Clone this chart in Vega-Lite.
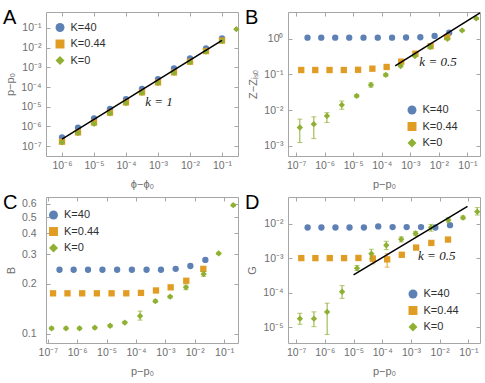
{
"$schema":"https://vega.github.io/schema/vega-lite/v6.json",
"padding":{"left":2,"top":7,"right":0,"bottom":0},
"bounds":"flush",
"columns":2,
"spacing":{"row":41,"column":50},
"datasets":{
"pts":[
{"p":"A","K":"K=40","x":1e-6,"y":2.82e-7},{"p":"A","K":"K=40","x":3.16e-6,"y":8.71e-7},{"p":"A","K":"K=40","x":1e-5,"y":2.57e-6},{"p":"A","K":"K=40","x":3.16e-5,"y":7.76e-6},{"p":"A","K":"K=40","x":1e-4,"y":2.45e-5},{"p":"A","K":"K=40","x":3.16e-4,"y":7.94e-5},{"p":"A","K":"K=40","x":1e-3,"y":2.51e-4},{"p":"A","K":"K=40","x":3.16e-3,"y":8.71e-4},{"p":"A","K":"K=40","x":1e-2,"y":2.82e-3},{"p":"A","K":"K=40","x":3.16e-2,"y":8.91e-3},{"p":"A","K":"K=40","x":0.1,"y":2.88e-2},
{"p":"A","K":"K=0.44","x":1e-6,"y":1.70e-7},{"p":"A","K":"K=0.44","x":3.16e-6,"y":5.01e-7},{"p":"A","K":"K=0.44","x":1e-5,"y":1.58e-6},{"p":"A","K":"K=0.44","x":3.16e-5,"y":5.01e-6},{"p":"A","K":"K=0.44","x":1e-4,"y":1.66e-5},{"p":"A","K":"K=0.44","x":3.16e-4,"y":5.37e-5},{"p":"A","K":"K=0.44","x":1e-3,"y":1.70e-4},{"p":"A","K":"K=0.44","x":3.16e-3,"y":5.50e-4},{"p":"A","K":"K=0.44","x":1e-2,"y":1.91e-3},{"p":"A","K":"K=0.44","x":3.16e-2,"y":6.61e-3},{"p":"A","K":"K=0.44","x":0.1,"y":2.24e-2},
{"p":"A","K":"K=0","x":1e-6,"y":1.58e-7},{"p":"A","K":"K=0","x":3.16e-6,"y":4.68e-7},{"p":"A","K":"K=0","x":1e-5,"y":1.38e-6},{"p":"A","K":"K=0","x":3.16e-5,"y":4.68e-6},{"p":"A","K":"K=0","x":1e-4,"y":1.55e-5},{"p":"A","K":"K=0","x":3.16e-4,"y":5.01e-5},{"p":"A","K":"K=0","x":1e-3,"y":1.62e-4},{"p":"A","K":"K=0","x":3.16e-3,"y":5.25e-4},{"p":"A","K":"K=0","x":1e-2,"y":1.82e-3},{"p":"A","K":"K=0","x":3.16e-2,"y":6.31e-3},{"p":"A","K":"K=0","x":0.1,"y":2.14e-2},{"p":"A","K":"K=0","x":0.28,"y":0.085},

{"p":"B","K":"K=40","x":2.51e-7,"y":1.07},{"p":"B","K":"K=40","x":7.59e-7,"y":1.07},{"p":"B","K":"K=40","x":2.34e-6,"y":1.07},{"p":"B","K":"K=40","x":7.24e-6,"y":1.07},{"p":"B","K":"K=40","x":2.29e-5,"y":1.07},{"p":"B","K":"K=40","x":7.24e-5,"y":1.07},{"p":"B","K":"K=40","x":2.29e-4,"y":1.07},{"p":"B","K":"K=40","x":7.08e-4,"y":1.08},{"p":"B","K":"K=40","x":2.24e-3,"y":1.10},{"p":"B","K":"K=40","x":7.08e-3,"y":1.20},{"p":"B","K":"K=40","x":2.29e-2,"y":1.47},
{"p":"B","K":"K=0.44","x":1.51e-7,"y":0.133},{"p":"B","K":"K=0.44","x":4.68e-7,"y":0.133},{"p":"B","K":"K=0.44","x":1.48e-6,"y":0.133},{"p":"B","K":"K=0.44","x":4.68e-6,"y":0.133},{"p":"B","K":"K=0.44","x":1.48e-5,"y":0.135},{"p":"B","K":"K=0.44","x":4.68e-5,"y":0.145},{"p":"B","K":"K=0.44","x":1.48e-4,"y":0.162},{"p":"B","K":"K=0.44","x":4.79e-4,"y":0.228},{"p":"B","K":"K=0.44","x":1.51e-3,"y":0.38},{"p":"B","K":"K=0.44","x":5.13e-3,"y":0.62},{"p":"B","K":"K=0.44","x":1.95e-2,"y":1.11},
{"p":"B","K":"K=0","x":1.35e-7,"y":3.27e-3,"lo":1.24e-3,"hi":5.6e-3},{"p":"B","K":"K=0","x":4.17e-7,"y":4.05e-3,"lo":1.6e-3,"hi":6.5e-3},{"p":"B","K":"K=0","x":1.20e-6,"y":6.9e-3,"lo":4.5e-3,"hi":8.5e-3},{"p":"B","K":"K=0","x":3.98e-6,"y":1.4e-2,"lo":1.06e-2,"hi":1.8e-2},{"p":"B","K":"K=0","x":1.32e-5,"y":2.5e-2,"lo":2.3e-2,"hi":2.75e-2},{"p":"B","K":"K=0","x":4.17e-5,"y":5.1e-2,"lo":4.4e-2,"hi":5.8e-2},{"p":"B","K":"K=0","x":1.38e-4,"y":0.097,"lo":0.088,"hi":0.107},{"p":"B","K":"K=0","x":4.57e-4,"y":0.172,"lo":0.163,"hi":0.181},{"p":"B","K":"K=0","x":1.45e-3,"y":0.328,"lo":0.31,"hi":0.345},{"p":"B","K":"K=0","x":5.01e-3,"y":0.585,"lo":0.55,"hi":0.62},{"p":"B","K":"K=0","x":2.0e-2,"y":1.0},{"p":"B","K":"K=0","x":6.5e-2,"y":1.71,"lo":1.6,"hi":1.82},{"p":"B","K":"K=0","x":0.204,"y":3.7,"lo":3.45,"hi":3.95},

{"p":"C","K":"K=40","x":2.51e-7,"y":0.242},{"p":"C","K":"K=40","x":7.59e-7,"y":0.242},{"p":"C","K":"K=40","x":2.34e-6,"y":0.242},{"p":"C","K":"K=40","x":7.24e-6,"y":0.242},{"p":"C","K":"K=40","x":2.29e-5,"y":0.242},{"p":"C","K":"K=40","x":7.24e-5,"y":0.242},{"p":"C","K":"K=40","x":2.29e-4,"y":0.242},{"p":"C","K":"K=40","x":7.08e-4,"y":0.242},{"p":"C","K":"K=40","x":2.24e-3,"y":0.245},{"p":"C","K":"K=40","x":7.08e-3,"y":0.255},{"p":"C","K":"K=40","x":2.29e-2,"y":0.277},
{"p":"C","K":"K=0.44","x":1.51e-7,"y":0.175},{"p":"C","K":"K=0.44","x":4.68e-7,"y":0.175},{"p":"C","K":"K=0.44","x":1.48e-6,"y":0.175},{"p":"C","K":"K=0.44","x":4.68e-6,"y":0.175},{"p":"C","K":"K=0.44","x":1.48e-5,"y":0.175},{"p":"C","K":"K=0.44","x":4.68e-5,"y":0.175},{"p":"C","K":"K=0.44","x":1.48e-4,"y":0.176},{"p":"C","K":"K=0.44","x":4.79e-4,"y":0.182},{"p":"C","K":"K=0.44","x":1.51e-3,"y":0.190},{"p":"C","K":"K=0.44","x":5.13e-3,"y":0.208},{"p":"C","K":"K=0.44","x":1.95e-2,"y":0.245},
{"p":"C","K":"K=0","x":1.35e-7,"y":0.108,"lo":0.106,"hi":0.110},{"p":"C","K":"K=0","x":4.17e-7,"y":0.108,"lo":0.106,"hi":0.110},{"p":"C","K":"K=0","x":1.20e-6,"y":0.108,"lo":0.106,"hi":0.110},{"p":"C","K":"K=0","x":3.98e-6,"y":0.109,"lo":0.107,"hi":0.111},{"p":"C","K":"K=0","x":1.32e-5,"y":0.112,"lo":0.110,"hi":0.114},{"p":"C","K":"K=0","x":4.17e-5,"y":0.117,"lo":0.115,"hi":0.119},{"p":"C","K":"K=0","x":1.38e-4,"y":0.128,"lo":0.121,"hi":0.137},{"p":"C","K":"K=0","x":4.57e-4,"y":0.157,"lo":0.154,"hi":0.160},{"p":"C","K":"K=0","x":1.45e-3,"y":0.167,"lo":0.164,"hi":0.170},{"p":"C","K":"K=0","x":5.01e-3,"y":0.190,"lo":0.184,"hi":0.196},{"p":"C","K":"K=0","x":2.0e-2,"y":0.228,"lo":0.221,"hi":0.236},{"p":"C","K":"K=0","x":6.5e-2,"y":0.303,"lo":0.298,"hi":0.308},{"p":"C","K":"K=0","x":0.204,"y":0.589,"lo":0.58,"hi":0.598},

{"p":"D","K":"K=40","x":2.51e-7,"y":7.8e-3,"lo":7.4e-3,"hi":8.2e-3},{"p":"D","K":"K=40","x":7.59e-7,"y":7.8e-3,"lo":7.4e-3,"hi":8.2e-3},{"p":"D","K":"K=40","x":2.34e-6,"y":7.8e-3,"lo":7.4e-3,"hi":8.2e-3},{"p":"D","K":"K=40","x":7.24e-6,"y":7.8e-3,"lo":7.4e-3,"hi":8.2e-3},{"p":"D","K":"K=40","x":2.29e-5,"y":7.8e-3,"lo":7.4e-3,"hi":8.2e-3},{"p":"D","K":"K=40","x":7.24e-5,"y":8.35e-3,"lo":7.9e-3,"hi":8.8e-3},{"p":"D","K":"K=40","x":2.29e-4,"y":8.0e-3,"lo":7.6e-3,"hi":8.4e-3},{"p":"D","K":"K=40","x":7.08e-4,"y":8.0e-3,"lo":7.6e-3,"hi":8.4e-3},{"p":"D","K":"K=40","x":2.24e-3,"y":8.0e-3,"lo":7.6e-3,"hi":8.4e-3},{"p":"D","K":"K=40","x":7.08e-3,"y":7.8e-3,"lo":7.4e-3,"hi":8.2e-3},{"p":"D","K":"K=40","x":2.29e-2,"y":9.1e-3,"lo":8.6e-3,"hi":9.6e-3},
{"p":"D","K":"K=0.44","x":1.51e-7,"y":1.01e-3,"lo":9.2e-4,"hi":1.1e-3},{"p":"D","K":"K=0.44","x":4.68e-7,"y":1.01e-3,"lo":9.2e-4,"hi":1.1e-3},{"p":"D","K":"K=0.44","x":1.48e-6,"y":1.01e-3,"lo":9.2e-4,"hi":1.1e-3},{"p":"D","K":"K=0.44","x":4.68e-6,"y":1.01e-3,"lo":9.2e-4,"hi":1.1e-3},{"p":"D","K":"K=0.44","x":1.48e-5,"y":1.02e-3,"lo":8.6e-4,"hi":1.2e-3},{"p":"D","K":"K=0.44","x":4.68e-5,"y":9.7e-4,"lo":6.9e-4,"hi":1.21e-3},{"p":"D","K":"K=0.44","x":1.48e-4,"y":9.3e-4,"lo":5.5e-4,"hi":1.35e-3},{"p":"D","K":"K=0.44","x":4.79e-4,"y":1.26e-3,"lo":1.15e-3,"hi":1.38e-3},{"p":"D","K":"K=0.44","x":1.51e-3,"y":2.04e-3,"lo":1.9e-3,"hi":2.2e-3},{"p":"D","K":"K=0.44","x":5.13e-3,"y":2.78e-3,"lo":2.6e-3,"hi":2.95e-3},{"p":"D","K":"K=0.44","x":1.95e-2,"y":3.48e-3,"lo":3.25e-3,"hi":3.7e-3},
{"p":"D","K":"K=0","x":1.35e-7,"y":1.78e-5,"lo":1.22e-5,"hi":2.55e-5},{"p":"D","K":"K=0","x":4.17e-7,"y":1.78e-5,"lo":1.04e-5,"hi":2.79e-5},{"p":"D","K":"K=0","x":1.20e-6,"y":2.79e-5,"lo":6.2e-6,"hi":5.0e-5},{"p":"D","K":"K=0","x":3.98e-6,"y":1.07e-4,"lo":6.9e-5,"hi":1.61e-4},{"p":"D","K":"K=0","x":1.32e-5,"y":5.16e-4,"lo":4.4e-4,"hi":6.2e-4},{"p":"D","K":"K=0","x":4.17e-5,"y":1.36e-3,"lo":9.7e-4,"hi":1.82e-3},{"p":"D","K":"K=0","x":1.38e-4,"y":2.38e-3,"lo":1.78e-3,"hi":3.1e-3},{"p":"D","K":"K=0","x":4.57e-4,"y":3.56e-3,"lo":2.98e-3,"hi":4.17e-3},{"p":"D","K":"K=0","x":1.45e-3,"y":5.21e-3,"lo":4.5e-3,"hi":6.0e-3},{"p":"D","K":"K=0","x":5.01e-3,"y":7.8e-3,"lo":6.1e-3,"hi":9.56e-3},{"p":"D","K":"K=0","x":2.0e-2,"y":1.28e-2,"lo":1.1e-2,"hi":1.5e-2},{"p":"D","K":"K=0","x":6.5e-2,"y":1.5e-2,"lo":1.35e-2,"hi":1.68e-2},{"p":"D","K":"K=0","x":0.204,"y":2.24e-2,"lo":1.79e-2,"hi":2.94e-2}
],
"lines":[
{"p":"A","x":1e-6,"y":2.3e-7},{"p":"A","x":0.1,"y":2.3e-2},
{"p":"B","x":2.95e-4,"y":0.173},{"p":"B","x":0.275,"y":5.3},
{"p":"D","x":1e-5,"y":3.31e-4},{"p":"D","x":0.0933,"y":0.032}
],
"notes":[
{"p":"A","x":1.07e-3,"y":1.82e-5,"t":"k = 1"},
{"p":"B","x":9.3e-3,"y":0.228,"t":"k = 0.5"},
{"p":"D","x":7.9e-3,"y":1.13e-3,"t":"k = 0.5"}
]
},
"concat":[
{"width":192,"height":144,
 "title":{"text":"A"},
 "layer":[
  {"data":{"name":"pts"},"transform":[{"filter":"datum.p=='A'"}],
   "mark":{"type":"point","filled":true,"size":40,"opacity":1},
   "encoding":{
    "x":{"field":"x","type":"quantitative","scale":{"type":"log","domain":[3.16e-7,0.316],"nice":false},"axis":{"orient":"bottom","values":[1e-6,1e-5,1e-4,1e-3,1e-2,1e-1],"labelExpr":"['10⁻⁷','10⁻⁶','10⁻⁵','10⁻⁴','10⁻³','10⁻²','10⁻¹','10⁰'][round(log(datum.value)/LN10)+7]","title":"ϕ−ϕ₀"}},
    "y":{"field":"y","type":"quantitative","scale":{"type":"log","domain":[3.2e-8,0.63],"nice":false},"axis":{"orient":"left","values":[1e-7,1e-6,1e-5,1e-4,1e-3,1e-2,1e-1],"labelExpr":"['10⁻⁷','10⁻⁶','10⁻⁵','10⁻⁴','10⁻³','10⁻²','10⁻¹','10⁰'][round(log(datum.value)/LN10)+7]","title":"p−p₀"}},
    "color":{"field":"K","type":"nominal","scale":{"domain":["K=40","K=0.44","K=0"],"range":["#5E81B5","#E19C24","#8FB032"]},"legend":{"title":null,"orient":"none","legendX":8.5,"legendY":10}},
    "shape":{"field":"K","type":"nominal","scale":{"domain":["K=40","K=0.44","K=0"],"range":["circle","square","diamond"]},"legend":{"title":null,"orient":"none","legendX":8.5,"legendY":10}}
   }},
  {"data":{"name":"pts"},"transform":[{"filter":"datum.p=='A' && isValid(datum.lo)"}],
   "mark":{"type":"errorbar","ticks":true,"size":5,"thickness":1},
   "encoding":{
    "x":{"field":"x","type":"quantitative","scale":{"type":"log","domain":[3.16e-7,0.316],"nice":false},"axis":{"orient":"top","labels":false,"title":null,"values":[1e-6,1e-5,1e-4,1e-3,1e-2,1e-1]}},
    "y":{"field":"lo","type":"quantitative","scale":{"type":"log","domain":[3.2e-8,0.63],"nice":false},"axis":{"orient":"right","labels":false,"title":null,"values":[1e-7,1e-6,1e-5,1e-4,1e-3,1e-2,1e-1]}},
    "y2":{"field":"hi"},
    "color":{"field":"K","type":"nominal","legend":null}
   }},
  {"data":{"name":"lines"},"transform":[{"filter":"datum.p=='A'"}],
   "mark":{"type":"line","color":"black","strokeWidth":1.5,"clip":true},
   "encoding":{"x":{"field":"x","type":"quantitative","axis":null},"y":{"field":"y","type":"quantitative","axis":null}}},
  {"data":{"name":"notes"},"transform":[{"filter":"datum.p=='A'"}],
   "mark":{"type":"text","font":"Liberation Serif","fontStyle":"italic","fontSize":13,"color":"#222"},
   "encoding":{"x":{"field":"x","type":"quantitative","axis":null},"y":{"field":"y","type":"quantitative","axis":null},"text":{"field":"t"}}}
 ],
 "resolve":{"axis":{"x":"independent","y":"independent"}}
},
{"width":192,"height":144,
 "title":{"text":"B"},
 "layer":[
  {"data":{"name":"pts"},"transform":[{"filter":"datum.p=='B'"}],
   "mark":{"type":"point","filled":true,"size":40,"opacity":1},
   "encoding":{
    "x":{"field":"x","type":"quantitative","scale":{"type":"log","domain":[5.2e-8,0.275],"nice":false},"axis":{"orient":"bottom","values":[1e-7,1e-6,1e-5,1e-4,1e-3,1e-2,1e-1],"labelExpr":"['10⁻⁷','10⁻⁶','10⁻⁵','10⁻⁴','10⁻³','10⁻²','10⁻¹','10⁰'][round(log(datum.value)/LN10)+7]","title":"p−p₀"}},
    "y":{"field":"y","type":"quantitative","scale":{"type":"log","domain":[5.2e-4,5.6],"nice":false},"axis":{"orient":"left","values":[1e-3,1e-2,1e-1,1],"labelExpr":"['10⁻⁷','10⁻⁶','10⁻⁵','10⁻⁴','10⁻³','10⁻²','10⁻¹','10⁰'][round(log(datum.value)/LN10)+7]","title":"Z−Zᵢₛₒ"}},
    "color":{"field":"K","type":"nominal","scale":{"domain":["K=40","K=0.44","K=0"],"range":["#5E81B5","#E19C24","#8FB032"]},"legend":{"title":null,"orient":"none","legendX":118.5,"legendY":92.5}},
    "shape":{"field":"K","type":"nominal","scale":{"domain":["K=40","K=0.44","K=0"],"range":["circle","square","diamond"]},"legend":{"title":null,"orient":"none","legendX":118.5,"legendY":92.5}}
   }},
  {"data":{"name":"pts"},"transform":[{"filter":"datum.p=='B' && isValid(datum.lo)"}],
   "mark":{"type":"errorbar","ticks":true,"size":5,"thickness":1},
   "encoding":{
    "x":{"field":"x","type":"quantitative","scale":{"type":"log","domain":[5.2e-8,0.275],"nice":false},"axis":{"orient":"top","labels":false,"title":null,"values":[1e-7,1e-6,1e-5,1e-4,1e-3,1e-2,1e-1]}},
    "y":{"field":"lo","type":"quantitative","scale":{"type":"log","domain":[5.2e-4,5.6],"nice":false},"axis":{"orient":"right","labels":false,"title":null,"values":[1e-3,1e-2,1e-1,1]}},
    "y2":{"field":"hi"},
    "color":{"field":"K","type":"nominal","legend":null}
   }},
  {"data":{"name":"lines"},"transform":[{"filter":"datum.p=='B'"}],
   "mark":{"type":"line","color":"black","strokeWidth":1.5,"clip":true},
   "encoding":{"x":{"field":"x","type":"quantitative","axis":null},"y":{"field":"y","type":"quantitative","axis":null}}},
  {"data":{"name":"notes"},"transform":[{"filter":"datum.p=='B'"}],
   "mark":{"type":"text","font":"Liberation Serif","fontStyle":"italic","fontSize":13,"color":"#222"},
   "encoding":{"x":{"field":"x","type":"quantitative","axis":null},"y":{"field":"y","type":"quantitative","axis":null},"text":{"field":"t"}}}
 ],
 "resolve":{"axis":{"x":"independent","y":"independent"}}
},
{"width":192,"height":146,
 "title":{"text":"C"},
 "layer":[
  {"data":{"name":"pts"},"transform":[{"filter":"datum.p=='C'"}],
   "mark":{"type":"point","filled":true,"size":40,"opacity":1},
   "encoding":{
    "x":{"field":"x","type":"quantitative","scale":{"type":"log","domain":[8.7e-8,0.295],"nice":false},"axis":{"orient":"bottom","values":[1e-7,1e-6,1e-5,1e-4,1e-3,1e-2,1e-1],"labelExpr":"['10⁻⁷','10⁻⁶','10⁻⁵','10⁻⁴','10⁻³','10⁻²','10⁻¹','10⁰'][round(log(datum.value)/LN10)+7]","title":"p−p₀"}},
    "y":{"field":"y","type":"quantitative","scale":{"type":"log","domain":[0.0883,0.659],"nice":false},"axis":{"orient":"left","values":[0.1,0.2,0.3,0.4,0.5,0.6],"format":".1f","labelPadding":14,"title":"B"}},
    "color":{"field":"K","type":"nominal","scale":{"domain":["K=40","K=0.44","K=0"],"range":["#5E81B5","#E19C24","#8FB032"]},"legend":{"title":null,"orient":"none","legendX":2,"legendY":12.5}},
    "shape":{"field":"K","type":"nominal","scale":{"domain":["K=40","K=0.44","K=0"],"range":["circle","square","diamond"]},"legend":{"title":null,"orient":"none","legendX":2,"legendY":12.5}}
   }},
  {"data":{"name":"pts"},"transform":[{"filter":"datum.p=='C' && isValid(datum.lo)"}],
   "mark":{"type":"errorbar","ticks":true,"size":5,"thickness":1},
   "encoding":{
    "x":{"field":"x","type":"quantitative","scale":{"type":"log","domain":[8.7e-8,0.295],"nice":false},"axis":{"orient":"top","labels":false,"title":null,"values":[1e-7,1e-6,1e-5,1e-4,1e-3,1e-2,1e-1]}},
    "y":{"field":"lo","type":"quantitative","scale":{"type":"log","domain":[0.0883,0.659],"nice":false},"axis":{"orient":"right","labels":false,"title":null,"values":[0.1,0.2,0.3,0.4,0.5,0.6]}},
    "y2":{"field":"hi"},
    "color":{"field":"K","type":"nominal","legend":null}
   }}
 ],
 "resolve":{"axis":{"x":"independent","y":"independent"}}
},
{"width":192,"height":146,
 "title":{"text":"D"},
 "layer":[
  {"data":{"name":"pts"},"transform":[{"filter":"datum.p=='D'"}],
   "mark":{"type":"point","filled":true,"size":40,"opacity":1},
   "encoding":{
    "x":{"field":"x","type":"quantitative","scale":{"type":"log","domain":[5.2e-8,0.254],"nice":false},"axis":{"orient":"bottom","values":[1e-7,1e-6,1e-5,1e-4,1e-3,1e-2,1e-1],"labelExpr":"['10⁻⁷','10⁻⁶','10⁻⁵','10⁻⁴','10⁻³','10⁻²','10⁻¹','10⁰'][round(log(datum.value)/LN10)+7]","title":"p−p₀"}},
    "y":{"field":"y","type":"quantitative","scale":{"type":"log","domain":[3.5e-6,0.0596],"nice":false},"axis":{"orient":"left","values":[1e-5,1e-4,1e-3,1e-2],"labelExpr":"['10⁻⁷','10⁻⁶','10⁻⁵','10⁻⁴','10⁻³','10⁻²','10⁻¹','10⁰'][round(log(datum.value)/LN10)+7]","title":"G"}},
    "color":{"field":"K","type":"nominal","scale":{"domain":["K=40","K=0.44","K=0"],"range":["#5E81B5","#E19C24","#8FB032"]},"legend":{"title":null,"orient":"none","legendX":119.5,"legendY":91.5}},
    "shape":{"field":"K","type":"nominal","scale":{"domain":["K=40","K=0.44","K=0"],"range":["circle","square","diamond"]},"legend":{"title":null,"orient":"none","legendX":119.5,"legendY":91.5}}
   }},
  {"data":{"name":"pts"},"transform":[{"filter":"datum.p=='D' && isValid(datum.lo)"}],
   "mark":{"type":"errorbar","ticks":true,"size":5,"thickness":1},
   "encoding":{
    "x":{"field":"x","type":"quantitative","scale":{"type":"log","domain":[5.2e-8,0.254],"nice":false},"axis":{"orient":"top","labels":false,"title":null,"values":[1e-7,1e-6,1e-5,1e-4,1e-3,1e-2,1e-1]}},
    "y":{"field":"lo","type":"quantitative","scale":{"type":"log","domain":[3.5e-6,0.0596],"nice":false},"axis":{"orient":"right","labels":false,"title":null,"values":[1e-5,1e-4,1e-3,1e-2]}},
    "y2":{"field":"hi"},
    "color":{"field":"K","type":"nominal","legend":null}
   }},
  {"data":{"name":"lines"},"transform":[{"filter":"datum.p=='D'"}],
   "mark":{"type":"line","color":"black","strokeWidth":1.5,"clip":true},
   "encoding":{"x":{"field":"x","type":"quantitative","axis":null},"y":{"field":"y","type":"quantitative","axis":null}}},
  {"data":{"name":"notes"},"transform":[{"filter":"datum.p=='D'"}],
   "mark":{"type":"text","font":"Liberation Serif","fontStyle":"italic","fontSize":13,"color":"#222"},
   "encoding":{"x":{"field":"x","type":"quantitative","axis":null},"y":{"field":"y","type":"quantitative","axis":null},"text":{"field":"t"}}}
 ],
 "resolve":{"axis":{"x":"independent","y":"independent"}}
}
],
"resolve":{"scale":{"color":"independent","shape":"independent"}},
"config":{
 "font":"Liberation Sans",
 "view":{"stroke":"#a6a6a6","strokeWidth":1},
 "axis":{"domain":false,"grid":false,"tickColor":"#a6a6a6","tickSize":-4,"labelColor":"#6e6e6e","titleColor":"#6e6e6e","labelFontSize":10.5,"titleFontSize":11,"titleFontWeight":"normal","labelFlush":false,"labelOverlap":false,"labelFont":"Liberation Sans","titleFont":"Liberation Sans"},
 "axisX":{"labelPadding":8,"titlePadding":8},
 "axisY":{"labelPadding":9,"titlePadding":5},
 "legend":{"labelFontSize":11,"labelColor":"#303030","symbolSize":80,"rowPadding":4.5,"padding":0,"labelOffset":5,"symbolStrokeWidth":0,"labelFont":"Liberation Sans"},
 "title":{"anchor":"start","frame":"group","dx":-43,"dy":20,"offset":0,"baseline":"top","fontSize":20,"fontWeight":"normal","font":"Liberation Sans","color":"#000000"}
}
}
